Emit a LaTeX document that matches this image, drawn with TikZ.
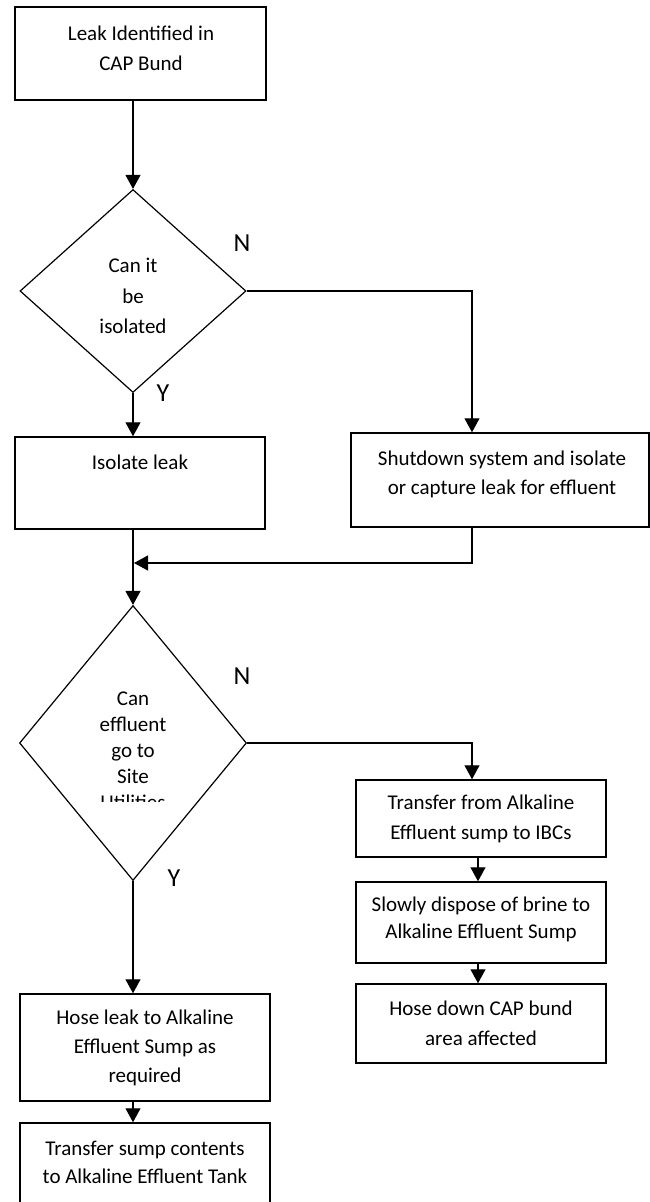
\documentclass[tikz,border=0pt]{standalone}
\usepackage{fontspec}
\setmainfont{Carlito}
\usetikzlibrary{arrows.meta,shapes.geometric}
\begin{document}
\begin{tikzpicture}[x=1pt,y=-1pt,
  box/.style={draw, line width=1.5pt, inner sep=0pt},
  decision/.style={draw, diamond, line width=1.2pt, inner sep=0pt},
  txt/.style={align=center, inner sep=0pt, font=\fontsize{21}{#1}\selectfont},
  txt/.default=29,
  yn/.style={inner sep=0pt, font=\fontsize{26}{30}\selectfont},
  flow/.style={line width=1.2pt, -{Triangle[length=14pt,width=15pt]}},
  link/.style={line width=1.2pt}]
\clip (0,0) rectangle (650,1202);

% columns of the connectors
\coordinate (colL) at (133,0);
\coordinate (colR) at (472,0);
\coordinate (colS) at (478,0);
\coordinate (join) at (134,563);

% shapes
\node[box, minimum width=251pt, minimum height=93pt] (b1) at (140.5,53.5) {};
\node[decision, minimum width=226pt, minimum height=203pt] (d1) at (133,291) {};
\node[box, minimum width=250pt, minimum height=92pt] (b2) at (140,483) {};
\node[box, minimum width=298pt, minimum height=94pt] (b3) at (500,480) {};
\node[decision, minimum width=227pt, minimum height=275pt] (d2) at (133,743) {};
\node[box, minimum width=250pt, minimum height=77pt] (b4) at (481,818.5) {};
\node[box, minimum width=250pt, minimum height=81pt] (b5) at (481,922.5) {};
\node[box, minimum width=250pt, minimum height=79pt] (b6) at (481,1023.5) {};
\node[box, minimum width=250pt, minimum height=107pt] (b7) at (145,1047.5) {};
\node[box, minimum width=250pt, minimum height=92pt] (b8) at (145,1169) {};

% texts
\node[txt=30] (t1) at (141,48) {Leak Identified in\\CAP Bund};
\node[txt=30.5] (td1) at (133,296) {Can it\\be\\isolated};
\node[txt] (t2) at (140,462) {Isolate leak};
\node[txt] (t3) at (502,474.5) {Shutdown system and isolate\\or capture leak for effluent};
\begin{scope}
  \clip (0,0) rectangle (650,801);
  \node[txt=26] (td2) at (133,751) {Can\\effluent\\go to\\Site\\Utilities};
\end{scope}
\node[txt=30] (t4) at (481,819) {Transfer from Alkaline\\Effluent sump to IBCs};
\node[txt=27] (t5) at (481,919.5) {Slowly dispose of brine to\\Alkaline Effluent Sump};
\node[txt=30] (t6) at (481,1023) {Hose down CAP bund\\area affected};
\node[txt] (t7) at (145,1048) {Hose leak to Alkaline\\Effluent Sump as\\required};
\node[txt=28] (t8) at (145,1162) {Transfer sump contents\\to Alkaline Effluent Tank};

% branch labels
\node[yn] (n1) at (242,243) {N};
\node[yn] (y1) at (163,393) {Y};
\node[yn] (n2) at (242,676) {N};
\node[yn] (y2) at (174,878) {Y};

% connectors
\draw[flow] (b1.south -| d1.north) -- (d1.north);
\draw[flow] (d1.south) -- (b2.north -| d1.south);
\draw[flow] (d1.east) -| (b3.north -| colR);
\draw[flow] (b3.south -| colR) |- (join);
\draw[flow] (b2.south -| d2.north) -- (d2.north);
\draw[flow] (d2.east) -| (b4.north -| colR);
\draw[flow] (b4.south -| colS) -- (b5.north -| colS);
\draw[flow] (b5.south -| colS) -- (b6.north -| colS);
\draw[flow] (d2.south) -- (b7.north -| d2.south);
\draw[flow] (b7.south -| colL) -- (b8.north -| colL);
\end{tikzpicture}
\end{document}
